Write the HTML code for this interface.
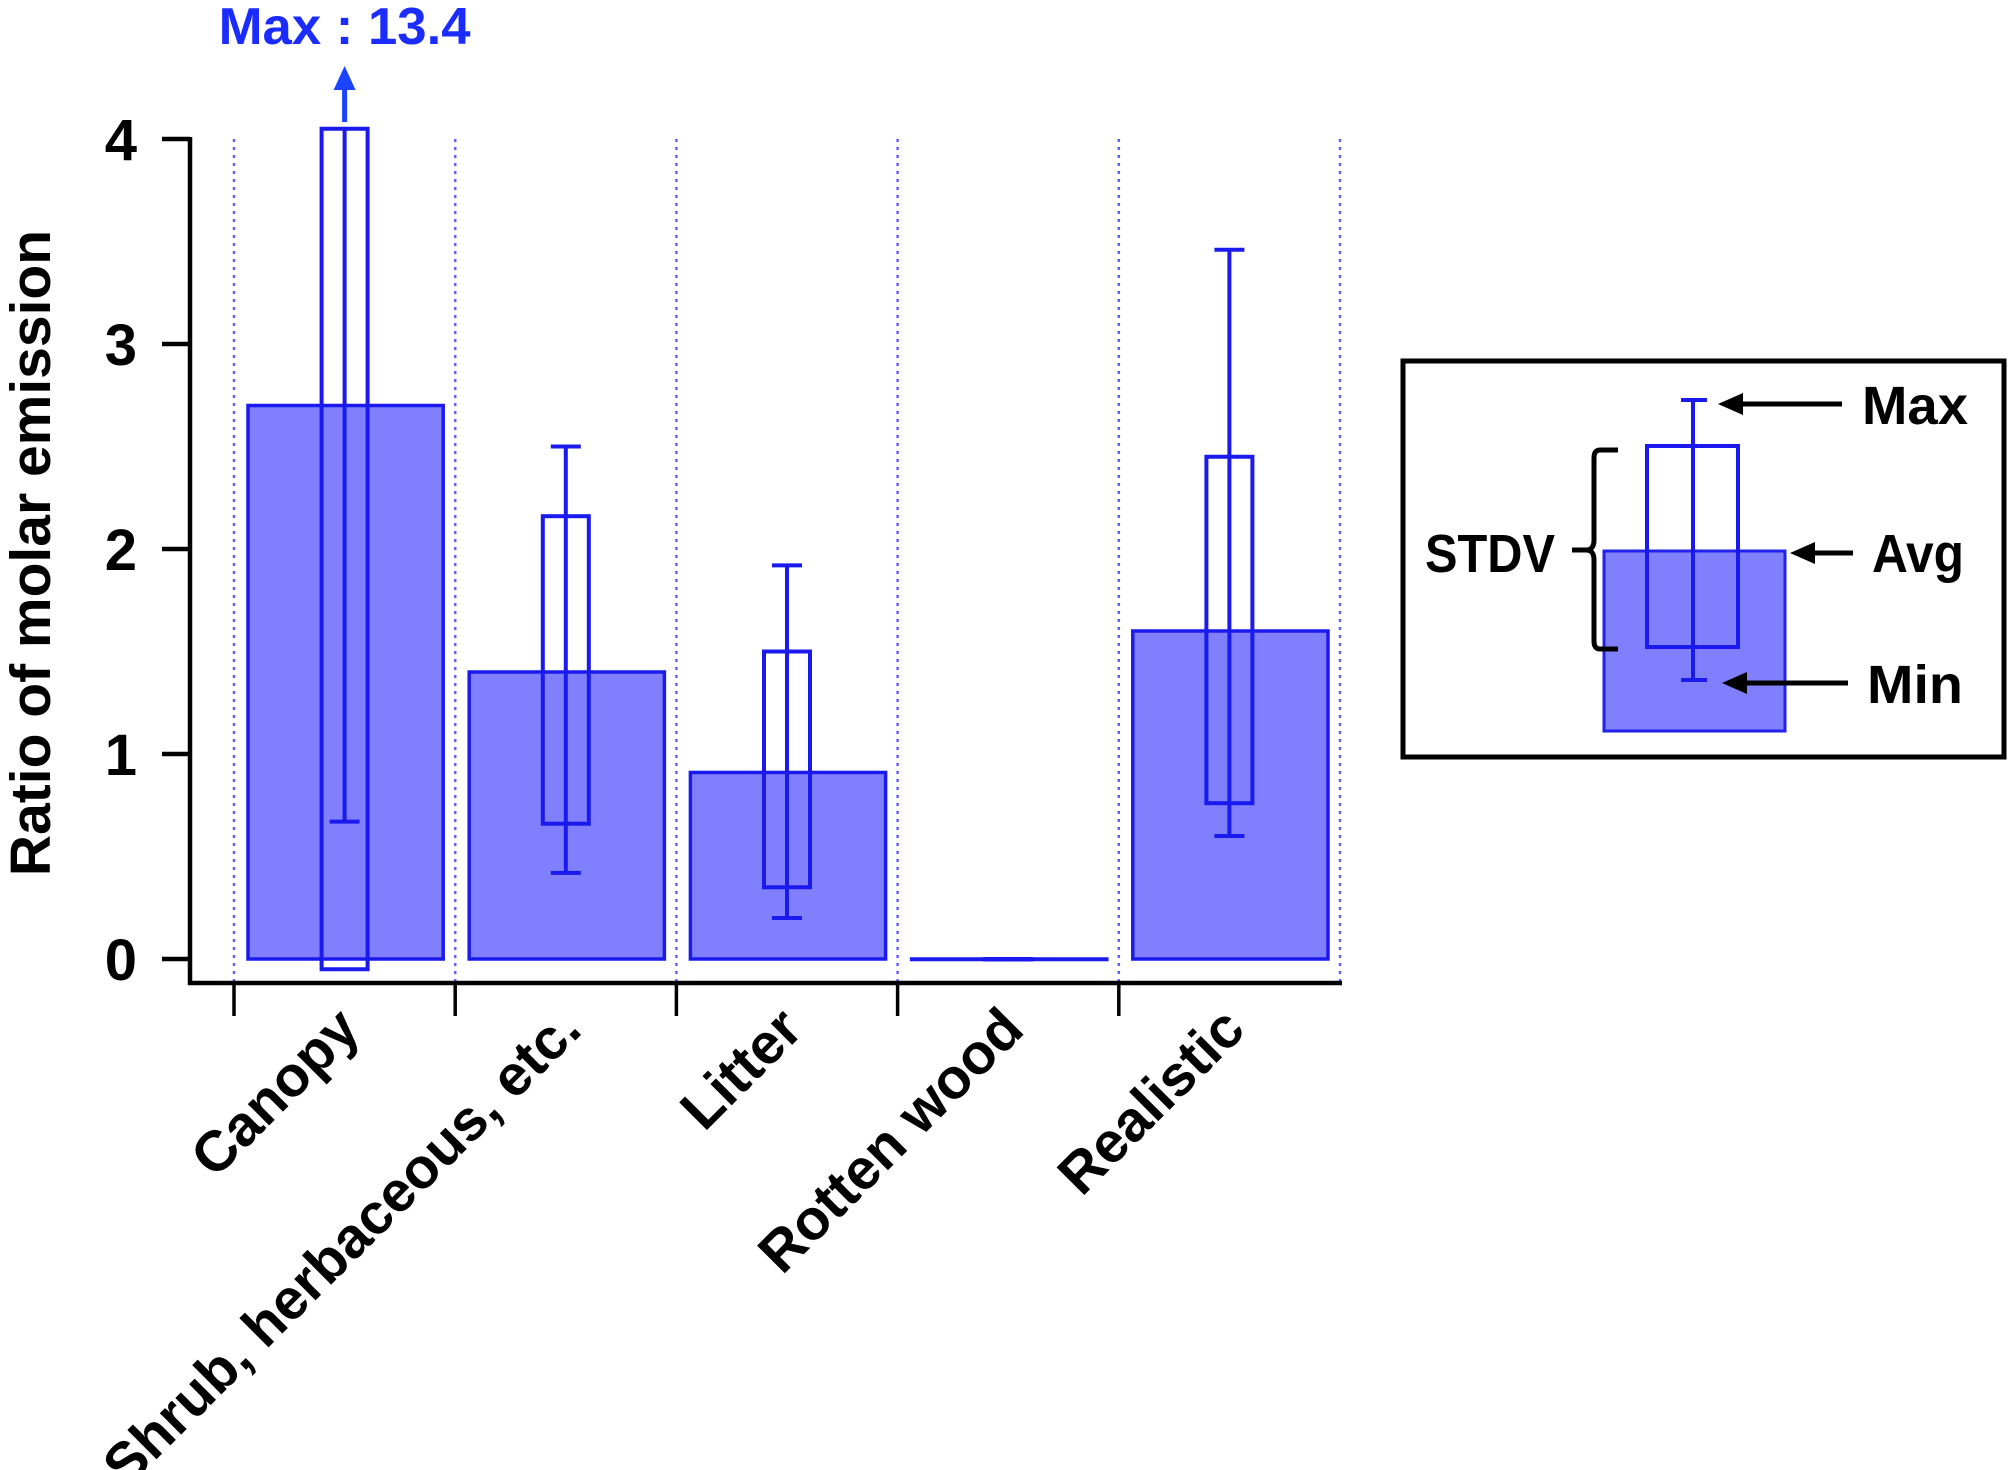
<!DOCTYPE html>
<html><head><meta charset="utf-8">
<style>
html,body{margin:0;padding:0;background:#fff;}
svg{display:block;}
text{font-family:"Liberation Sans",sans-serif;font-weight:bold;}
</style></head>
<body>
<svg id="chart" width="2016" height="1470" viewBox="0 0 2016 1470" xmlns="http://www.w3.org/2000/svg">
  <g id="plot"></g>
  <g id="legend">
    <rect x="1403" y="361" width="601" height="396" fill="#fff" stroke="#000" stroke-width="5"/>
    <rect x="1604" y="551" width="181" height="180" fill="#8080ff" stroke="#2222ee" stroke-width="3"/>
    <rect x="1647" y="446" width="91" height="201" fill="none" stroke="#1a1aee" stroke-width="4"/>
    <line x1="1693" y1="400" x2="1693" y2="680" stroke="#1a1aee" stroke-width="4"/>
    <line x1="1681" y1="400" x2="1707" y2="400" stroke="#1a1aee" stroke-width="4"/>
    <line x1="1681" y1="680" x2="1707" y2="680" stroke="#1a1aee" stroke-width="4"/>
    <line x1="1740" y1="404" x2="1842" y2="404" stroke="#000" stroke-width="5"/>
    <polygon points="1718,404 1743,393 1743,415" fill="#000"/>
    <line x1="1812" y1="553" x2="1853" y2="553" stroke="#000" stroke-width="5"/>
    <polygon points="1790,553 1815,542 1815,564" fill="#000"/>
    <line x1="1744" y1="683" x2="1848" y2="683" stroke="#000" stroke-width="5"/>
    <polygon points="1722,683 1747,672 1747,694" fill="#000"/>
    <path d="M1618,450 L1600,450 Q1594,450 1594,458 L1594,540 Q1594,550 1586,550 L1572,550 M1586,550 Q1594,550 1594,560 L1594,641 Q1594,649 1600,649 L1618,649" fill="none" stroke="#000" stroke-width="5"/>
    <text x="1862" y="424" font-size="54" textLength="106" lengthAdjust="spacingAndGlyphs">Max</text>
    <text x="1872" y="572" font-size="54" textLength="92" lengthAdjust="spacingAndGlyphs">Avg</text>
    <text x="1867" y="703" font-size="54" textLength="96" lengthAdjust="spacingAndGlyphs">Min</text>
    <text x="1425" y="572" font-size="54" textLength="130" lengthAdjust="spacingAndGlyphs">STDV</text>
  </g>
</svg>
<script>
const categories = ["Canopy", "Shrub, herbaceous, etc.", "Litter", "Rotten wood", "Realistic"];
const avgValues = [2.7, 1.4, 0.91, 0.0, 1.6];
const stdLow = [-0.05, 0.66, 0.35, 0.0, 0.76];
const stdHigh = [4.05, 2.16, 1.5, 0.0, 2.45];
const minValues = [0.67, 0.42, 0.2, 0.0, 0.6];
const maxValues = [13.4, 2.5, 1.92, 0.0, 3.46];
const yTicks = [0, 1, 2, 3, 4];

const NS = "http://www.w3.org/2000/svg";
const plot = document.getElementById("plot");
const X0 = 234, CW = 221.2, Y0 = 959, YU = 205, YMAX = 4.05;
const xBand = i => X0 + i * CW;
const xCenter = i => X0 + (i + 0.5) * CW;
const yScale = v => Y0 - Math.min(v, YMAX + 0.05) * YU;
function mk(tag, attrs) { const e = document.createElementNS(NS, tag); for (const k in attrs) e.setAttribute(k, attrs[k]); plot.appendChild(e); return e; }

for (let i = 0; i <= categories.length; i++) {
  const d = mk("line", {x1: xBand(i), x2: xBand(i), y1: yScale(4), y2: 983, stroke: "#6060ff", "stroke-width": 2.5, "stroke-dasharray": "3,5"});
  
  
}
const ya = mk("line", {x1: 190, x2: 190, y1: yScale(4) - 2, y2: 985, stroke: "#000", "stroke-width": 4.5});


const xa = mk("line", {x1: 188, x2: xBand(categories.length) + 2, y1: 983, y2: 983, stroke: "#000", "stroke-width": 4.5});


yTicks.forEach(t => {
  const tk = mk("line", {x1: 162, x2: 190, y1: yScale(t), y2: yScale(t), stroke: "#000", "stroke-width": 4.5});
  
  
  const lb = mk("text", {x: 137, y: yScale(t) + 21, "text-anchor": "end", "font-size": 58});
  lb.textContent = t;
  
  
});
const yt = mk("text", {x: 0, y: 0, "text-anchor": "middle", "font-size": 57, transform: "translate(50,553) rotate(-90)"});
yt.textContent = "Ratio of molar emission";



categories.forEach((c, i) => {
  const tk = mk("line", {x1: xBand(i), x2: xBand(i), y1: 983, y2: 1016, stroke: "#000", "stroke-width": 3.5});
  
  
  const cx = xCenter(i);
  const bar = mk("rect", {x: xBand(i) + 14, y: yScale(avgValues[i]), width: CW - 26, height: Math.max(Y0 - yScale(avgValues[i]), 0.5), fill: "#8080ff", stroke: "#1a1aee", "stroke-width": 3.5});
  
  
  const box = mk("rect", {x: cx - 23, y: yScale(stdHigh[i]), width: 46, height: Math.max(yScale(stdLow[i]) - yScale(stdHigh[i]), 0.5), fill: "none", stroke: "#1a1aee", "stroke-width": 4});
  
  
  const wy1 = maxValues[i] > YMAX ? yScale(stdHigh[i]) : yScale(maxValues[i]);
  const wh = mk("line", {x1: cx, x2: cx, y1: wy1, y2: yScale(minValues[i]), stroke: "#1a1aee", "stroke-width": 4});
  
  
  const c1 = mk("line", {x1: cx - 15, x2: cx + 15, y1: yScale(minValues[i]), y2: yScale(minValues[i]), stroke: "#1a1aee", "stroke-width": 4});
  
  
  if (maxValues[i] <= YMAX) {
    const c2 = mk("line", {x1: cx - 15, x2: cx + 15, y1: yScale(maxValues[i]), y2: yScale(maxValues[i]), stroke: "#1a1aee", "stroke-width": 4});
    
    
  } else {
    const ar = mk("line", {x1: cx, x2: cx, y1: 122, y2: 88, stroke: "#1a44ff", "stroke-width": 5});
    
    
    const ah = mk("polygon", {points: `${cx},66 ${cx - 11},90 ${cx + 11},90`, fill: "#1a44ff"});
    
    
    const mt = mk("text", {x: cx, y: 44, "text-anchor": "middle", "font-size": 52, fill: "#1a2cff", textLength: 252, lengthAdjust: "spacingAndGlyphs"});
    mt.textContent = "Max : " + maxValues[i];
    
    
  }
  const lb = mk("text", {x: 0, y: 0, "text-anchor": "end", "font-size": 57, transform: `translate(${cx + 18},1032) rotate(-45)`});
  lb.textContent = c;
  
  
});
</script>
</body></html>
